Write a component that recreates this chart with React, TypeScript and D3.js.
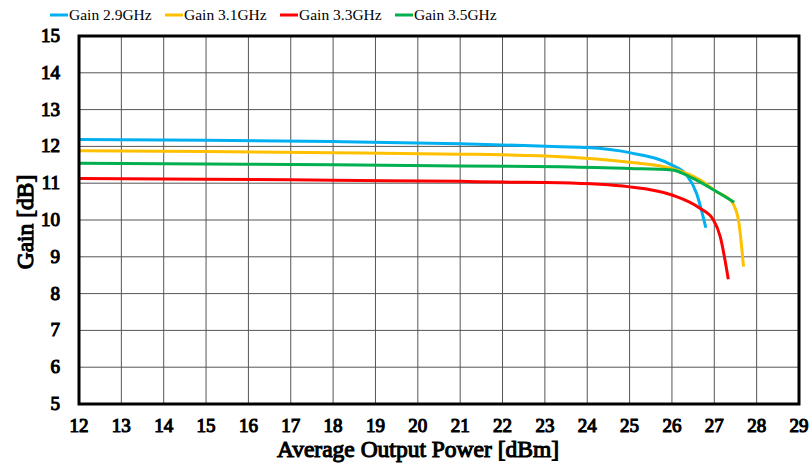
import React from "react";
import * as d3 from "d3";

const xTicks = [12, 13, 14, 15, 16, 17, 18, 19, 20, 21, 22, 23, 24, 25, 26, 27, 28, 29];
const yTicks = [5, 6, 7, 8, 9, 10, 11, 12, 13, 14, 15];

const seriesNames = ["Gain 2.9GHz", "Gain 3.1GHz", "Gain 3.3GHz", "Gain 3.5GHz"];
const seriesColors = ["#00B0F0", "#FFC000", "#FF0000", "#00B050"];

const gain29: [number, number][] = [
  [12, 12.19], [15, 12.17], [18, 12.13], [21, 12.07], [22, 12.04], [23.36, 11.99], [24, 11.97],
  [25, 11.83], [26, 11.49], [26.35, 11.22], [26.58, 10.73], [26.8, 9.79],
];
const gain31: [number, number][] = [
  [12, 11.88], [15, 11.86], [18, 11.83], [21, 11.79], [22, 11.77], [23.36, 11.72], [25, 11.57],
  [26, 11.4], [26.66, 11.09], [27.05, 10.77], [27.41, 10.5], [27.57, 10.0], [27.69, 8.73],
];
const gain33: [number, number][] = [
  [12, 11.13], [15, 11.11], [18, 11.08], [21, 11.05], [22, 11.03], [23.36, 11.01], [25, 10.9],
  [26, 10.68], [26.66, 10.32], [26.98, 10.0], [27.14, 9.55], [27.33, 8.39],
];
const gain35: [number, number][] = [
  [12, 11.54], [15, 11.52], [18, 11.5], [21, 11.47], [23.36, 11.45], [25, 11.4],
  [26, 11.36], [26.5, 11.13], [26.98, 10.82], [27.47, 10.48],
];
const seriesData = [gain29, gain31, gain33, gain35];
const drawOrder = [0, 1, 3, 2];

const W = 811;
const H = 467;
const margin = { left: 79, right: 12, top: 36, bottom: 63 };

export default function App() {
  const x = d3.scaleLinear().domain([12, 29]).range([margin.left, W - margin.right]);
  const y = d3.scaleLinear().domain([5, 15]).range([H - margin.bottom, margin.top]);
  const line = d3
    .line<[number, number]>()
    .x((d) => x(d[0]))
    .y((d) => y(d[1]))
    .curve(d3.curveMonotoneX);
  const font = "Liberation Serif, Times New Roman, serif";
  const legendX = [50, 165, 280, 395];
  const ts = { fontFamily: font };
  const bold = { fontFamily: font, fontWeight: 400, stroke: "#000", strokeWidth: 1.1, paintOrder: "stroke" as const };
  return (
    <svg width={W} height={H} style={{ position: "absolute", left: 0, top: 0 }}>
      <rect x={0} y={0} width={W} height={H} fill="#fff" />
      {xTicks.map((t) => (
        <line key={"gx" + t} x1={x(t)} x2={x(t)} y1={y(5)} y2={y(15)} stroke="#555" strokeWidth={1} />
      ))}
      {yTicks.map((t) => (
        <line key={"gy" + t} x1={x(12)} x2={x(29)} y1={y(t)} y2={y(t)} stroke="#555" strokeWidth={1} />
      ))}
      {drawOrder.map((i) => (
        <path key={"s" + i} d={line(seriesData[i]) || ""} fill="none" stroke={seriesColors[i]} strokeWidth={3} />
      ))}
      <rect x={x(12)} y={y(15)} width={x(29) - x(12)} height={y(5) - y(15)} fill="none" stroke="#000" strokeWidth={3} />
      {yTicks.map((t) => (
        <text key={"ty" + t} x={60} y={y(t) + 6} textAnchor="end" style={bold} fontSize={19}>
          {t}
        </text>
      ))}
      {xTicks.map((t) => (
        <text key={"tx" + t} x={x(t)} y={432} textAnchor="middle" style={bold} fontSize={19}>
          {t}
        </text>
      ))}
      <text x={418} y={457} textAnchor="middle" style={bold} fontSize={23.5}>
        Average Output Power [dBm]
      </text>
      <text transform={`translate(33, ${y(10) + 2}) rotate(-90)`} textAnchor="middle" style={bold} fontSize={23.5}>
        Gain [dB]
      </text>
      {seriesNames.map((n, i) => (
        <g key={"lg" + i}>
          <line x1={legendX[i]} x2={legendX[i] + 18} y1={15} y2={15} stroke={seriesColors[i]} strokeWidth={3} />
          <text x={legendX[i] + 19} y={20} style={ts} fontSize={15.5}>
            {n}
          </text>
        </g>
      ))}
    </svg>
  );
}
